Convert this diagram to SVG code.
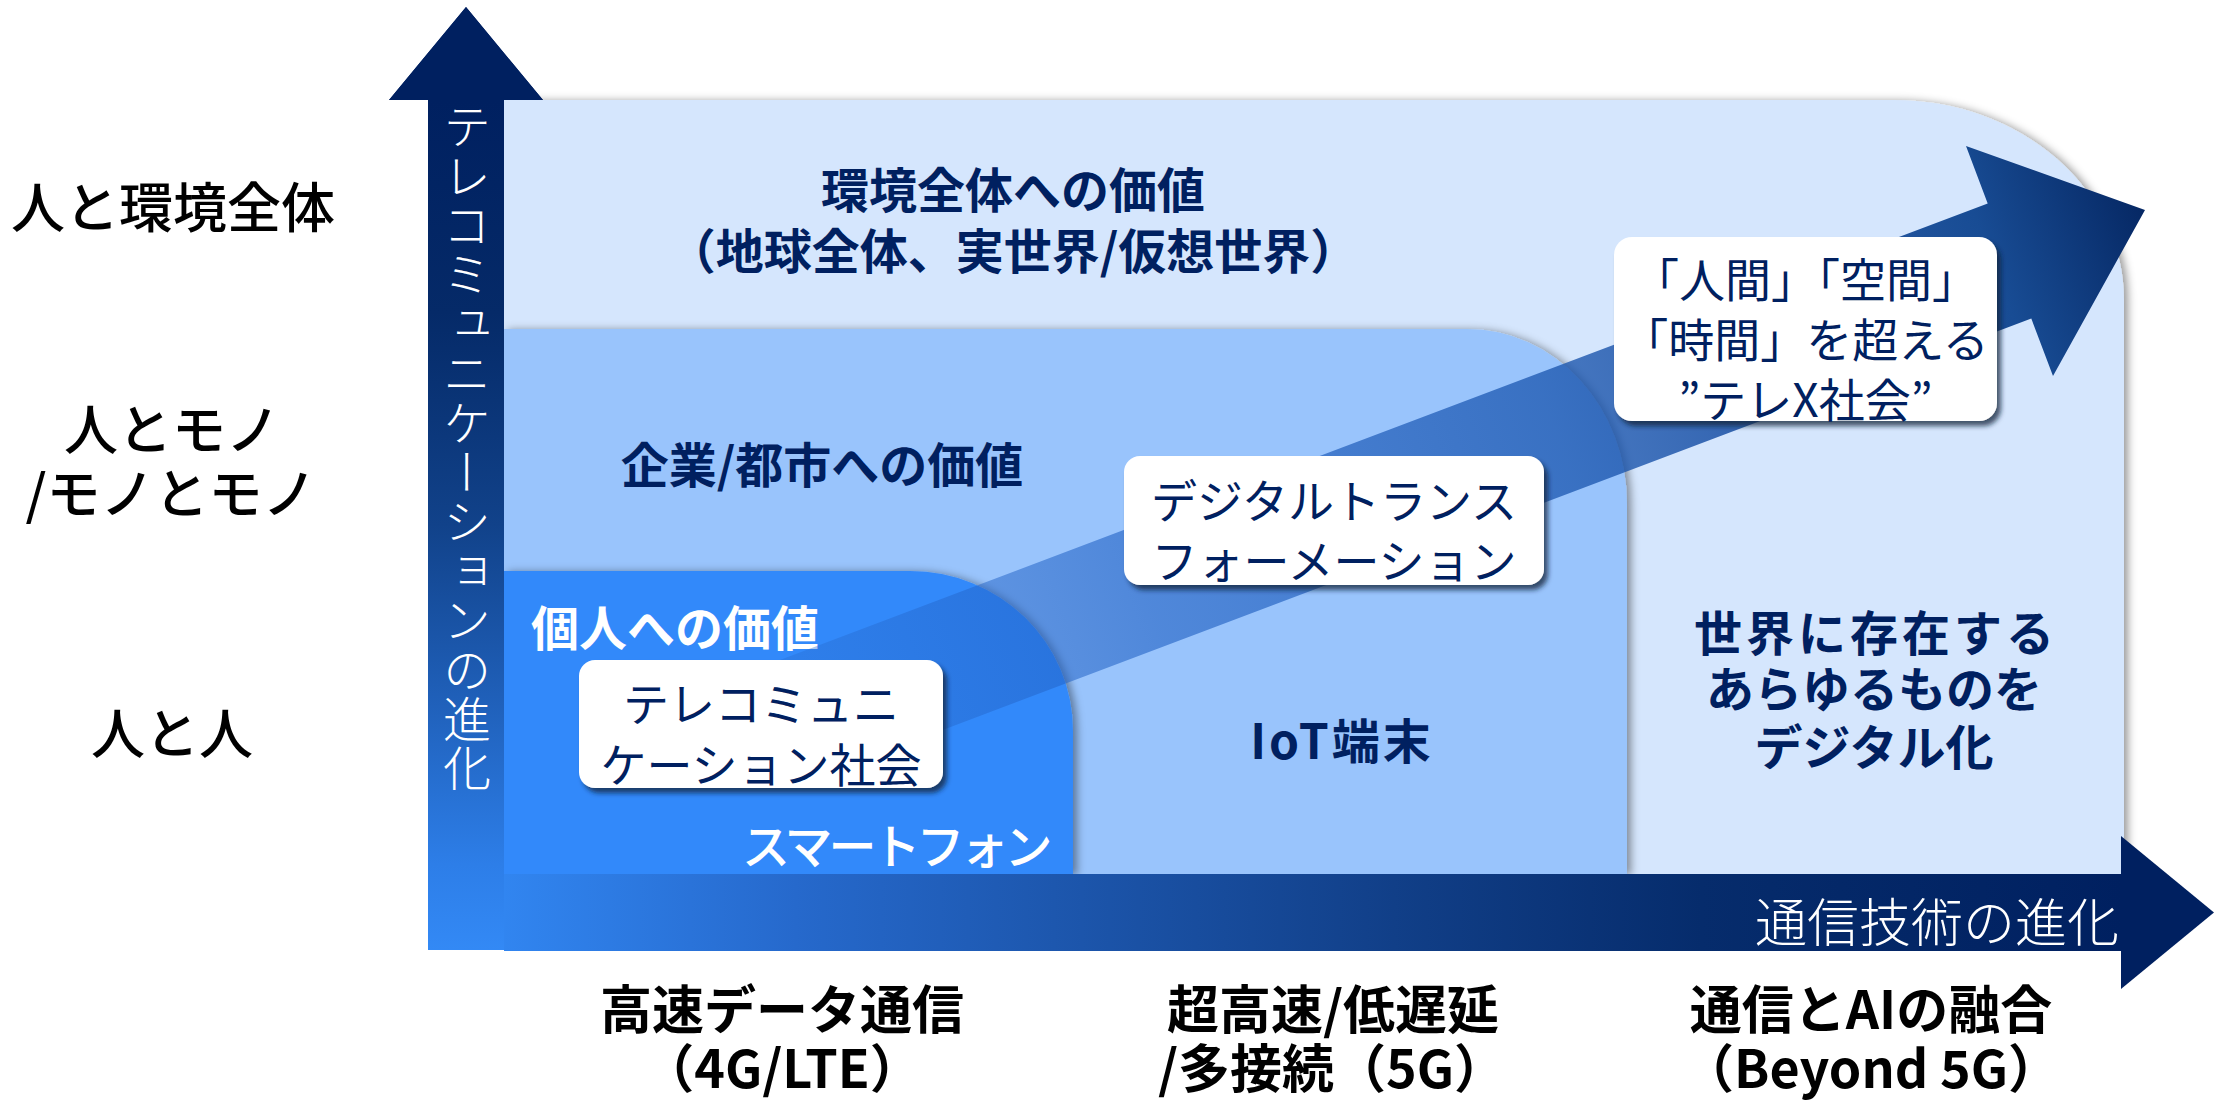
<svg xmlns="http://www.w3.org/2000/svg" width="2218" height="1102" viewBox="0 0 2218 1102">
<defs>
<style>
text{font-family:"Noto Sans CJK JP","Noto Sans",sans-serif;}
.lbl{fill:#000;font-size:54px;font-weight:500;text-anchor:middle;}
.bot{fill:#000;font-size:52px;font-weight:bold;text-anchor:middle;}
.reg{fill:#002060;font-size:48px;font-weight:bold;text-anchor:middle;}
.box{fill:#002060;font-size:46px;text-anchor:middle;}
.wht{fill:#fff;}
.card{fill:#fff;filter:url(#cs);}
</style>
<filter id="rs" x="-5%" y="-10%" width="115%" height="125%">
<feDropShadow dx="4" dy="1" stdDeviation="4" flood-color="#000" flood-opacity="0.4"/>
</filter>
<filter id="cs" x="-10%" y="-15%" width="125%" height="135%">
<feDropShadow dx="4" dy="5" stdDeviation="2.5" flood-color="#15213a" flood-opacity="0.75"/>
</filter>
<linearGradient id="vg" gradientUnits="userSpaceOnUse" x1="0" y1="100" x2="0" y2="950">
<stop offset="0" stop-color="#002060"/>
<stop offset="0.25" stop-color="#052a68"/>
<stop offset="0.5" stop-color="#11428a"/>
<stop offset="0.7" stop-color="#1f5fb8"/>
<stop offset="0.9" stop-color="#2d7ee8"/>
<stop offset="1" stop-color="#3389f5"/>
</linearGradient>
<linearGradient id="hg" gradientUnits="userSpaceOnUse" x1="504" y1="0" x2="2122" y2="0">
<stop offset="0" stop-color="#3185f0"/>
<stop offset="0.18" stop-color="#2669cc"/>
<stop offset="0.34" stop-color="#1d57ae"/>
<stop offset="0.55" stop-color="#113f88"/>
<stop offset="0.74" stop-color="#062c6c"/>
<stop offset="1" stop-color="#002060"/>
</linearGradient>
<linearGradient id="dg" gradientUnits="userSpaceOnUse" x1="775" y1="728" x2="2145" y2="210">
<stop offset="0" stop-color="rgb(40,110,210)" stop-opacity="0.35"/>
<stop offset="0.16" stop-color="rgb(35,100,200)" stop-opacity="0.5"/>
<stop offset="0.27" stop-color="rgb(30,95,195)" stop-opacity="0.6"/>
<stop offset="0.57" stop-color="rgb(25,85,175)" stop-opacity="0.75"/>
<stop offset="0.68" stop-color="rgb(25,80,165)" stop-opacity="0.85"/>
<stop offset="0.89" stop-color="rgb(24,76,148)" stop-opacity="1"/>
<stop offset="1" stop-color="rgb(6,40,100)" stop-opacity="1"/>
</linearGradient>
</defs>

<g id="region-environment">
<path d="M504,100 H1894 A230,200 0 0 1 2124,300 V874 H504 Z" fill="#d5e6fd" filter="url(#rs)"/>
<text class="reg" x="1013" y="208">環境全体への価値</text>
<text class="reg" x="1013" y="269">（地球全体、実世界/仮想世界）</text>
<text class="reg" x="1876" y="651" style="letter-spacing:4px">世界に存在する</text>
<text class="reg" x="1874" y="707">あらゆるものを</text>
<text class="reg" x="1874" y="765">デジタル化</text>
</g>

<g id="region-enterprise">
<path d="M504,329 H1467 A160,175 0 0 1 1627,504 V874 H504 Z" fill="#99c4fc" filter="url(#rs)"/>
<text class="reg" x="822" y="483">企業/都市への価値</text>
<text class="reg" x="1342" y="759" style="letter-spacing:3px">IoT端末</text>
</g>

<g id="region-individual">
<path d="M504,571 H910 A163,160 0 0 1 1073,731 V874 H504 Z" fill="#3389fa" filter="url(#rs)"/>
<text class="reg wht" x="531" y="646" style="text-anchor:start">個人への価値</text>
<text class="wht" x="742" y="864" style="font-size:48px;font-weight:500;letter-spacing:-4px">スマートフォン</text>
</g>

<g id="connectors">
<g id="axis-vertical">
<polygon points="466,7 543,100 504,100 504,950 428,950 428,100 389,100" fill="url(#vg)"/>
<polygon points="466,7 543,100 389,100" fill="#002060"/>
<text class="wht" x="467" y="102" style="font-size:48px;font-weight:300;writing-mode:vertical-rl;letter-spacing:1.4px">テレコミュニケーションの進化</text>
</g>
<g id="axis-horizontal">
<rect x="504" y="874" width="1618" height="77" fill="url(#hg)"/>
<polygon points="2121,836 2214,912.5 2121,989" fill="#002060"/>
<text class="wht" x="2119" y="942" style="font-size:52px;font-weight:300;text-anchor:end">通信技術の進化</text>
</g>
<g id="evolution-arrow">
<polygon points="753.2,670 1987.7,203.4 1966,146 2145,210 2053,376 2031.3,318.6 796.8,785.2" fill="url(#dg)"/>
</g>
</g>

<g id="node-telecom">
<rect class="card" x="579" y="660" width="364" height="128" rx="16"/>
<text class="box" x="761" y="721">テレコミュニ</text>
<text class="box" x="761" y="782">ケーション社会</text>
</g>

<g id="node-dx">
<rect class="card" x="1124" y="456" width="420" height="129" rx="16"/>
<text class="box" x="1334" y="518">デジタルトランス</text>
<text class="box" x="1334" y="578">フォーメーション</text>
</g>

<g id="node-telex">
<rect class="card" x="1614" y="237" width="383" height="184" rx="18"/>
<text class="box" x="1805.5" y="297">「人間」「空間」</text>
<text class="box" x="1805.5" y="357">「時間」を超える</text>
<text class="box" x="1805.5" y="417">”テレX社会”</text>
</g>

<g id="labels-left">
<text class="lbl" x="173" y="228">人と環境全体</text>
<text class="lbl" x="172" y="450">人とモノ</text>
<text class="lbl" x="171" y="514">/モノとモノ</text>
<text class="lbl" x="172" y="754">人と人</text>
</g>

<g id="labels-bottom">
<text class="bot" x="782" y="1029">高速データ通信</text>
<text class="bot" x="782" y="1088">（4G/LTE）</text>
<text class="bot" x="1333" y="1029">超高速/低遅延</text>
<text class="bot" x="1332" y="1088">/多接続（5G）</text>
<text class="bot" x="1871" y="1029">通信とAIの融合</text>
<text class="bot" x="1871" y="1088">（Beyond 5G）</text>
</g>
</svg>
